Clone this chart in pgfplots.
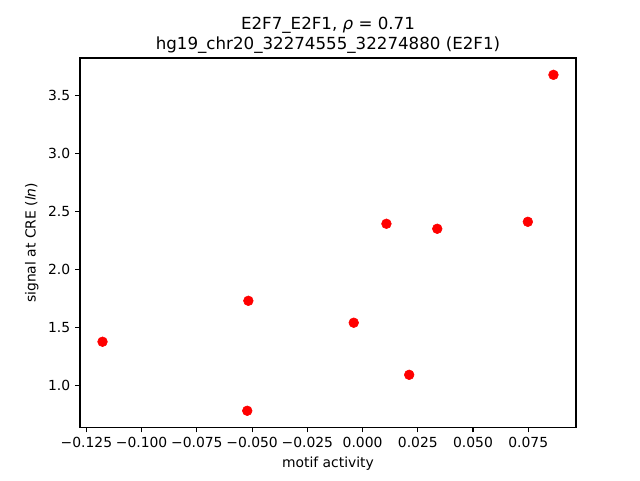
\documentclass[border=0pt]{standalone}
\usepackage{fontspec}
\setmainfont{DejaVu Sans}
\usepackage{pgfplots}
\pgfplotsset{compat=1.18}
\begin{document}
\begin{tikzpicture}
\begin{axis}[
  scale only axis,
  width=357.12pt, height=266.1pt,
  xmin=-0.1279, xmax=0.0966,
  ymin=0.637, ymax=3.823,
  tick pos=left,
  tick align=outside,
  major tick length=3.5pt,
  every tick/.style={line width=0.8pt, black},
  axis line style={line width=0.8pt},
  xtick={-0.125,-0.1,-0.075,-0.05,-0.025,0,0.025,0.05,0.075},
  xticklabels={−0.125,−0.100,−0.075,−0.050,−0.025,0.000,0.025,0.050,0.075},
  ytick={1.0,1.5,2.0,2.5,3.0,3.5},
  yticklabels={1.0,1.5,2.0,2.5,3.0,3.5},
  ticklabel style={font=\fontsize{10}{12}\selectfont},
  label style={font=\fontsize{10}{12}\selectfont},
  xlabel={motif activity},
  ylabel={signal at CRE ({\itshape ln})},
  title={E2F7\_E2F1, {\itshape ρ} = 0.71\\hg19\_chr20\_32274555\_32274880 (E2F1)},
  title style={align=center, font=\fontsize{12}{14.4}\selectfont, yshift=-6pt},
  /pgf/number format/assume math mode=true,
]
\addplot[only marks, mark=*, mark size=3.5pt, color=red, mark options={fill=red, draw=red}] coordinates {
  (-0.1177, 1.377)
  (-0.0517, 1.730)
  (-0.0522, 0.782)
  (-0.0040, 1.541)
  (0.0108, 2.394)
  (0.0211, 1.092)
  (0.0338, 2.351)
  (0.0748, 2.411)
  (0.0864, 3.678)
};
\end{axis}
\pgfresetboundingbox
\path ([xshift=-57.6pt,yshift=-38.16pt]current axis.south west) rectangle ([xshift=46.08pt,yshift=41.76pt]current axis.north east);
\end{tikzpicture}
\end{document}
